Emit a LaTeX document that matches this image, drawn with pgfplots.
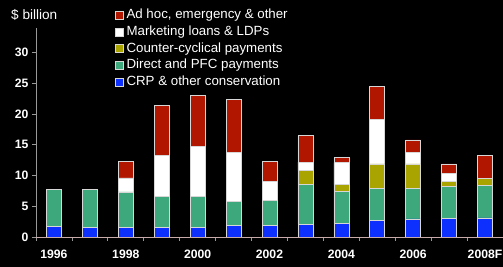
\documentclass[border=0pt]{standalone}
\usepackage{pgfplots}
\pgfplotsset{compat=1.18}
\usepackage{fontspec}
\setmainfont{Liberation Sans}
\definecolor{cred}{RGB}{176,22,0}
\definecolor{colive}{RGB}{170,164,0}
\definecolor{cgreen}{RGB}{60,168,124}
\definecolor{cblue}{RGB}{14,48,255}
\definecolor{bord}{RGB}{215,215,215}
\definecolor{xaxis}{RGB}{200,170,170}
\begin{document}
\begin{tikzpicture}
\path[use as bounding box, fill=black] (-36pt,-30pt) rectangle (467pt,237pt);
\begin{axis}[
  at={(0pt,0pt)}, anchor=south west,
  scale only axis, width=467pt, height=209pt,
  xmin=-0.5, xmax=12.5, ymin=0, ymax=34,
  ybar stacked, bar width=15pt,
  axis x line*=bottom, axis y line*=left,
  x axis line style={color=xaxis, line width=0.8pt},
  y axis line style={color=gray!80, line width=0.8pt},
  ytick={0,5,10,15,20,25,30},
  tick align=outside, major tick length=4pt,
  tick style={color=gray!80, line width=0.8pt},
  xtick={-0.5,0.5,1.5,2.5,3.5,4.5,5.5,6.5,7.5,8.5,9.5,10.5,11.5},
  xticklabels={},
  extra x ticks={0,2,4,6,8,10,12},
  extra x tick labels={1996,1998,2000,2002,2004,2006,2008F},
  extra x tick style={major tick length=0pt, tick label style={yshift=-9pt}},
  ticklabel style={font=\bfseries\fontsize{12.2}{14}\selectfont, text=white},
  /pgf/number format/assume math mode=true,
  reverse legend,
  legend image code/.code={\draw[#1,line width=0.6pt] (0pt,-4pt) rectangle (8pt,4pt);},
  legend style={at={(axis description cs:0.169,1.092)}, anchor=north west,
    draw=none, fill=none, inner sep=0pt, outer sep=0pt,
    text=white, font=\fontsize{13.3}{15}\selectfont,
    nodes={inner sep=0pt, text height=10pt, text depth=3pt},
    column sep=3pt, row sep=3.7pt},
  legend cell align=left,
]
\addplot[fill=cblue, draw=bord, line width=0.6pt] coordinates {(0,1.7) (1,1.6) (2,1.5) (3,1.6) (4,1.6) (5,1.95) (6,1.9) (7,2.1) (8,2.2) (9,2.75) (10,2.95) (11,3.0) (12,3.1)};
\addplot[fill=cgreen, draw=bord, line width=0.6pt] coordinates {(0,6.1) (1,6.2) (2,5.85) (3,5.0) (4,5.0) (5,3.85) (6,4.0) (7,6.5) (8,5.25) (9,5.2) (10,5.0) (11,5.25) (12,5.35)};
\addplot[fill=colive, draw=bord, line width=0.6pt] coordinates {(0,0) (1,0) (2,0) (3,0) (4,0) (5,0) (6,0.1) (7,2.2) (8,1.05) (9,3.95) (10,3.95) (11,0.85) (12,1.05)};
\addplot[fill=white, draw=bord, line width=0.6pt] coordinates {(0,0) (1,0) (2,2.25) (3,6.7) (4,8.1) (5,8.0) (6,3.0) (7,1.4) (8,3.6) (9,7.2) (10,1.9) (11,1.3) (12,0)};
\addplot[fill=cred, draw=bord, line width=0.6pt] coordinates {(0,0) (1,0) (2,2.7) (3,8.1) (4,8.35) (5,8.6) (6,3.3) (7,4.3) (8,0.8) (9,5.4) (10,2.0) (11,1.5) (12,3.8)};
\legend{CRP \& other conservation, Direct and PFC payments, Counter-cyclical payments, Marketing loans \& LDPs, {Ad hoc, emergency \& other}}
\end{axis}
\node[anchor=base west, text=white, font=\fontsize{13.6}{15}\selectfont, inner sep=0pt] at (-25pt,217pt) {\$ billion};
\end{tikzpicture}
\end{document}
